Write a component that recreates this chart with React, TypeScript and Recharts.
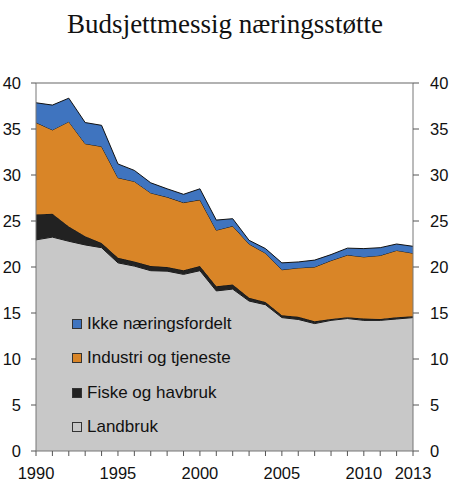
import React from 'react';
import { AreaChart, Area, XAxis, YAxis, ReferenceLine, Legend } from 'recharts';

const years = [1990, 1991, 1992, 1993, 1994, 1995, 1996, 1997, 1998, 1999, 2000, 2001, 2002, 2003, 2004, 2005, 2006, 2007, 2008, 2009, 2010, 2011, 2012, 2013];
const landbruk = [22.95, 23.25, 22.8, 22.4, 22.1, 20.45, 20.1, 19.6, 19.55, 19.2, 19.6, 17.4, 17.6, 16.3, 15.9, 14.5, 14.3, 13.85, 14.2, 14.4, 14.2, 14.2, 14.35, 14.5];
const fiske = [2.75, 2.55, 1.6, 0.95, 0.5, 0.55, 0.5, 0.5, 0.45, 0.45, 0.5, 0.5, 0.5, 0.35, 0.3, 0.25, 0.3, 0.25, 0.15, 0.15, 0.2, 0.15, 0.2, 0.15];
const industri = [10.0, 9.1, 11.4, 10.05, 10.5, 8.7, 8.7, 7.95, 7.6, 7.35, 7.2, 6.1, 6.35, 5.85, 5.3, 4.95, 5.3, 5.9, 6.35, 6.75, 6.7, 6.9, 7.25, 6.85];
const ikke = [2.15, 2.7, 2.55, 2.3, 2.3, 1.5, 1.2, 1.1, 0.9, 0.9, 1.2, 1.1, 0.8, 0.4, 0.5, 0.75, 0.65, 0.75, 0.65, 0.75, 0.9, 0.85, 0.7, 0.75];

const yTicks = [0, 5, 10, 15, 20, 25, 30, 35, 40];
const xLabelYears = [1990, 1995, 2000, 2005, 2010, 2013];
const title = 'Budsjettmessig næringsstøtte';

const series = [
  { key: 'landbruk', name: 'Landbruk', color: '#C8C8C8' },
  { key: 'fiske', name: 'Fiske og havbruk', color: '#222222' },
  { key: 'industri', name: 'Industri og tjeneste', color: '#D98527' },
  { key: 'ikke', name: 'Ikke næringsfordelt', color: '#3F74BF' },
];

const data = years.map((year, i) => ({
  year,
  landbruk: landbruk[i],
  fiske: fiske[i],
  industri: industri[i],
  ikke: ikke[i],
}));

const font = 'Arial, "Liberation Sans", Helvetica, sans-serif';

const LegendContent = () => (
  <div style={{ fontFamily: font, fontSize: 17, color: '#111' }}>
    {[...series].reverse().map((s) => (
      <div key={s.key} style={{ display: 'flex', alignItems: 'center', height: 34.3 }}>
        <span
          style={{
            display: 'inline-block',
            width: 8,
            height: 8,
            background: s.color,
            border: '1px solid #333',
            marginRight: 5,
          }}
        />
        <span>{s.name}</span>
      </div>
    ))}
  </div>
);

export default function App() {
  return (
    <div style={{ position: 'absolute', left: 0, top: 0, width: 450, height: 497, background: '#fff' }}>
      <div
        style={{
          position: 'absolute',
          left: 0,
          top: 9,
          width: 450,
          textAlign: 'center',
          fontFamily: '"Liberation Serif", "Times New Roman", serif',
          fontSize: 27,
          lineHeight: '30px',
          color: '#111',
        }}
      >
        {title}
      </div>
      <AreaChart width={450} height={497} data={data} margin={{ top: 83, right: 0, left: 0, bottom: 16 }}>
        <XAxis
          dataKey="year"
          type="number"
          domain={[1990, 2013]}
          ticks={years}
          interval={0}
          tickFormatter={(v: number) => (xLabelYears.includes(v) ? String(v) : '')}
          height={30}
          tickSize={5}
          tickMargin={11}
          tick={{ fill: '#111', fontSize: 16.5, fontFamily: font }}
          tickLine={{ stroke: '#555' }}
          axisLine={{ stroke: '#777' }}
        />
        <YAxis
          yAxisId="left"
          orientation="left"
          type="number"
          domain={[0, 40]}
          ticks={yTicks}
          interval={0}
          width={36}
          tickSize={5}
          tickMargin={10}
          tick={{ fill: '#111', fontSize: 16.5, fontFamily: font }}
          tickLine={{ stroke: '#555' }}
          axisLine={{ stroke: '#777' }}
        />
        <YAxis
          yAxisId="right"
          orientation="right"
          type="number"
          domain={[0, 40]}
          allowDataOverflow
          ticks={yTicks}
          interval={0}
          width={37}
          tickSize={6}
          tickMargin={11}
          tick={{ fill: '#111', fontSize: 16.5, fontFamily: font }}
          tickLine={{ stroke: '#555' }}
          axisLine={{ stroke: '#777' }}
        />
        {series.map((s) => (
          <Area
            key={s.key}
            yAxisId="left"
            type="linear"
            dataKey={s.key}
            name={s.name}
            stackId="a"
            fill={s.color}
            fillOpacity={1}
            stroke="#111"
            strokeWidth={1}
            isAnimationActive={false}
          />
        ))}
        <ReferenceLine yAxisId="right" y={40} stroke="#666" strokeWidth={1.2} ifOverflow="visible" />
        <Legend
          layout="vertical"
          align="center"
          verticalAlign="middle"
          content={<LegendContent />}
          wrapperStyle={{ position: 'absolute', left: 72, top: 307, width: 200, height: 140 }}
        />
      </AreaChart>
    </div>
  );
}
